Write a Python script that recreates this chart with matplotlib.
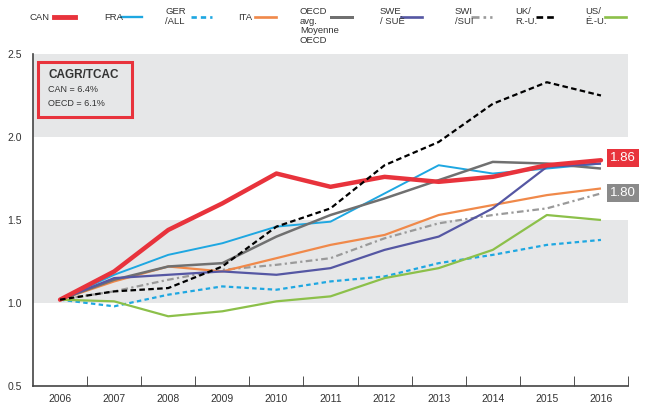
import matplotlib
matplotlib.use("Agg")
import matplotlib.pyplot as plt
from matplotlib.lines import Line2D
from matplotlib.patches import Rectangle

plt.rcParams["font.family"] = ["Liberation Sans", "DejaVu Sans"]

# Datos (índice, 2006 = 1)
years = [2006, 2007, 2008, 2009, 2010, 2011, 2012, 2013, 2014, 2015, 2016]
can = [1.02, 1.19, 1.44, 1.60, 1.78, 1.70, 1.76, 1.73, 1.76, 1.83, 1.86]
fra = [1.02, 1.17, 1.29, 1.36, 1.46, 1.49, 1.66, 1.83, 1.78, 1.81, 1.84]
ger = [1.02, 0.98, 1.05, 1.10, 1.08, 1.13, 1.16, 1.24, 1.29, 1.35, 1.38]
ita = [1.02, 1.13, 1.22, 1.19, 1.27, 1.35, 1.41, 1.53, 1.59, 1.65, 1.69]
oecd = [1.02, 1.14, 1.22, 1.24, 1.40, 1.53, 1.63, 1.74, 1.85, 1.84, 1.81]
swe = [1.02, 1.15, 1.17, 1.19, 1.17, 1.21, 1.32, 1.40, 1.57, 1.82, 1.84]
swi = [1.02, 1.07, 1.14, 1.20, 1.23, 1.27, 1.39, 1.48, 1.53, 1.57, 1.66]
uk = [1.02, 1.07, 1.09, 1.22, 1.46, 1.57, 1.83, 1.97, 2.20, 2.33, 2.25]
us = [1.02, 1.01, 0.92, 0.95, 1.01, 1.04, 1.15, 1.21, 1.32, 1.53, 1.50]

y_ticks = [0.5, 1.0, 1.5, 2.0, 2.5]
cagr_title = "CAGR/TCAC"
cagr_lines = ["CAN = 6.4%", "OECD = 6.1%"]

RED = "#e8333c"
BLUE = "#1ea7e1"
BAND = "#e6e7e8"

# (datos, etiqueta, color, ancho, estilo, zorder, x_texto, x_linea)
series = [
    (can, "CAN", RED, 3.2, "-", 9, 30, 54),
    (fra, "FRA", BLUE, 1.4, "-", 5, 104, 121),
    (ger, "GER\n/ALL", BLUE, 1.6, (0, (2, 1.5)), 4, 165, 191),
    (ita, "ITA", "#f0894a", 1.6, "-", 5, 238, 255),
    (oecd, "OECD\navg.\nMoyenne\nOECD", "#707070", 1.8, "-", 5, 300, 331),
    (swe, "SWE\n/ SUÈ", "#5557a3", 1.6, "-", 5, 380, 401),
    (swi, "SWI\n/SUI", "#9a9a9a", 1.6, (0, (3, 1.5, 1, 1.5)), 4, 455, 471),
    (uk, "UK/\nR.-U.", "black", 1.6, (0, (2.5, 1.5)), 10, 515, 536),
    (us, "US/\nÉ.-U.", "#8cc04a", 1.6, "-", 5, 585, 605),
]

W, H = 650, 412
fig = plt.figure(figsize=(6.5, 4.12), dpi=100)
ax = fig.add_axes([33 / W, 1 - 386 / H, (628 - 33) / W, (386 - 54) / H])

# Bandas grises
ax.axhspan(1.0, 1.5, color=BAND, zorder=0, lw=0)
ax.axhspan(2.0, 2.5, color=BAND, zorder=0, lw=0)

for data, label, color, lw, ls, z, tx, lx in series:
    ax.plot(years, data, color=color, lw=lw, linestyle=ls, zorder=z,
            solid_capstyle="round" if label == "CAN" else "butt")
    # Leyenda manual en la parte superior
    if "\n" in label:
        fig.text(tx / W, 1 - 7 / H, label, fontsize=6.8, color="#333333",
                 va="top", ha="left", linespacing=1.1)
    else:
        fig.text(tx / W, 1 - 17 / H, label, fontsize=6.8, color="#333333",
                 va="center", ha="left")
    fig.add_artist(Line2D([lx / W, (lx + 21) / W], [1 - 17 / H, 1 - 17 / H],
                          color=color, lw=lw * 1.2 if label != "CAN" else 3.5,
                          linestyle=ls, transform=fig.transFigure))

ax.set_xlim(2005.5, 2016.5)
ax.set_ylim(0.5, 2.5)
ax.set_yticks(y_ticks)
ax.set_yticklabels([f"{t:.1f}" for t in y_ticks])
ax.set_xticks(years)
ax.set_xticks([y + 0.5 for y in years], minor=True)
ax.tick_params(axis="x", which="major", length=0, labelsize=7.5, pad=6, colors="#333333")
ax.tick_params(axis="x", which="minor", length=7, direction="in", color="#333333")
ax.tick_params(axis="y", length=0, labelsize=7.5, colors="#333333", pad=8)

for s in ["top", "right"]:
    ax.spines[s].set_visible(False)
for s in ["left", "bottom"]:
    ax.spines[s].set_color("#444444")
    ax.spines[s].set_linewidth(1.2)

# Caja CAGR
box = Rectangle((38 / W, 1 - 117 / H), (132 - 38) / W, (117 - 62) / H,
                transform=fig.transFigure, facecolor=BAND, edgecolor=RED, lw=2.2)
fig.add_artist(box)
fig.text(48 / W, 1 - 75 / H, cagr_title, fontsize=8.5, fontweight="bold",
         color="#333333", va="center")
fig.text(48 / W, 1 - 90 / H, cagr_lines[0], fontsize=6.5, color="#333333", va="center")
fig.text(48 / W, 1 - 103 / H, cagr_lines[1], fontsize=6.5, color="#333333", va="center")

# Etiquetas finales
fig.text(623 / W, 1 - 158 / H, f"{can[-1]:.2f}", fontsize=9.5, color="white",
         ha="center", va="center",
         bbox=dict(boxstyle="square,pad=0.2", fc=RED, ec="none"))
fig.text(623 / W, 1 - 193 / H, "1.80", fontsize=9.5, color="white",
         ha="center", va="center",
         bbox=dict(boxstyle="square,pad=0.2", fc="#8a8a8a", ec="none"))

plt.savefig("out.png", dpi=100)
plt.close()
